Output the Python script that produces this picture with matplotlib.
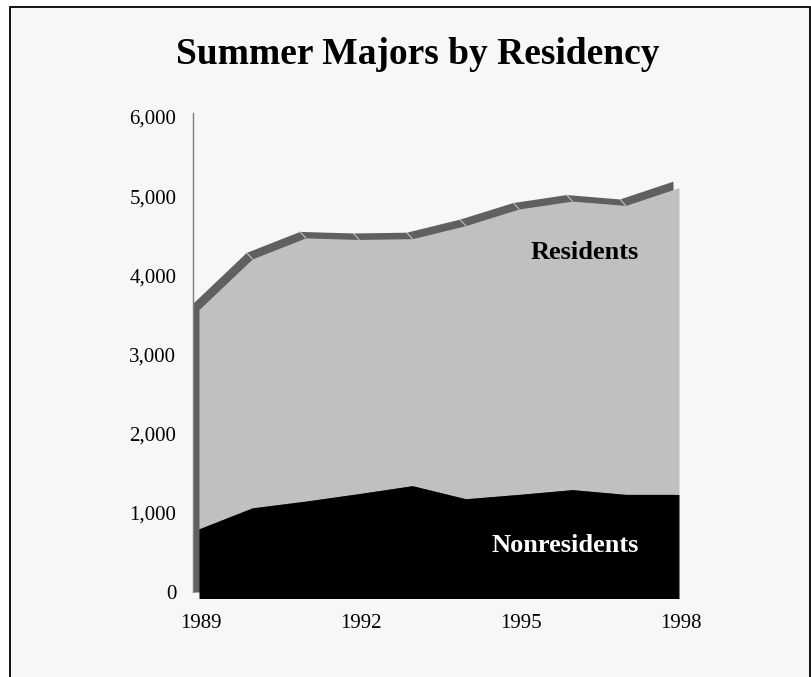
import matplotlib.pyplot as plt
import matplotlib.transforms as mtransforms
from matplotlib.patches import Rectangle
from matplotlib.ticker import FuncFormatter

years = [1989, 1990, 1991, 1992, 1993, 1994, 1995, 1996, 1997, 1998]
nonresidents = [880, 1145, 1230, 1325, 1425, 1260, 1315, 1375, 1315, 1315]
residents = [2770, 3145, 3325, 3210, 3120, 3450, 3605, 3645, 3650, 3875]
year_labels = [1989, 1992, 1995, 1998]
y_ticks = [0, 1000, 2000, 3000, 4000, 5000, 6000]

total = [n + r for n, r in zip(nonresidents, residents)]

plt.rcParams["font.family"] = ["Liberation Serif", "DejaVu Serif"]

fig = plt.figure(figsize=(8.12, 6.77), dpi=100, facecolor="white")

# chart area background + border (behind the axes)
fig.patches.append(Rectangle((10 / 812, -0.02), 800 / 812, 1 - 7 / 677 + 0.02,
                             transform=fig.transFigure, facecolor="#F7F7F7",
                             edgecolor="black", linewidth=1.3, zorder=-1))

ax = fig.add_axes([193 / 812, 85 / 677, 480 / 812, 479 / 677])
ax.set_facecolor("none")
ax.set_xlim(1989, 1998)
ax.set_ylim(0, 6000 * 479 / 475)

# fake 3D: back copy in dark gray, front faces shifted right/down
depth = mtransforms.ScaledTranslation(0.06, -0.065, fig.dpi_scale_trans)
front = ax.transData + depth

ax.fill_between(years, 0, total, color="#606060", linewidth=0, zorder=1,
                clip_on=False)
ax.fill_between(years, nonresidents, total, color="#C0C0C0", linewidth=0,
                transform=front, zorder=2, clip_on=False)
ax.fill_between(years, 0, nonresidents, color="black", linewidth=0,
                transform=front, zorder=3, clip_on=False)

# light seams across the top band at each year
for yr, t in zip(years[1:-1], total[1:-1]):
    ax.annotate("", xy=(yr, t), xycoords=front, xytext=(yr, t),
                textcoords="data", annotation_clip=False,
                arrowprops=dict(arrowstyle="-", color="#D0D0D0", lw=0.7,
                                shrinkA=0, shrinkB=0), zorder=4)

for s in ["top", "right", "bottom"]:
    ax.spines[s].set_visible(False)
ax.spines["left"].set_color("#808080")
ax.spines["left"].set_linewidth(1.0)

ax.set_yticks(y_ticks)
ax.yaxis.set_major_formatter(FuncFormatter(lambda v, p: f"{int(v):,}"))
ax.tick_params(axis="y", length=0, pad=12, labelsize=15)
ax.set_xticks([])

lab_tr = mtransforms.blended_transform_factory(ax.transData, fig.transFigure) + \
    mtransforms.ScaledTranslation(0.08, 0, fig.dpi_scale_trans)
for yr in year_labels:
    ax.text(yr, 1 - 624 / 677, str(yr), transform=lab_tr, ha="center",
            va="center", fontsize=15)

fig.text(0.515, 1 - 54 / 677, "Summer Majors by Residency", ha="center",
         va="center", fontsize=27, fontweight="bold")
fig.text(585 / 812, 1 - 253 / 677, "Residents", ha="center", va="center",
         fontsize=19, fontweight="bold", color="black")
fig.text(565 / 812, 1 - 546 / 677, "Nonresidents", ha="center", va="center",
         fontsize=19, fontweight="bold", color="white")

fig.savefig("out.png", dpi=100)
